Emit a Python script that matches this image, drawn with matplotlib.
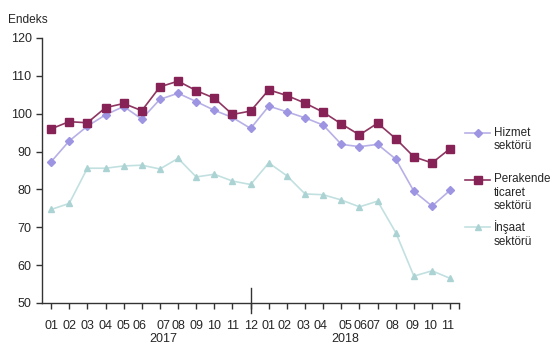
import matplotlib
matplotlib.use("Agg")
import matplotlib.pyplot as plt
import matplotlib.transforms as mtransforms
from matplotlib.lines import Line2D

plt.rcParams['font.family'] = ['Liberation Sans', 'DejaVu Sans']

# Month labels (Jan 2017 - Nov 2018)
months = ["01", "02", "03", "04", "05", "06", "07", "08", "09", "10", "11", "12",
          "01", "02", "03", "04", "05", "06", "07", "08", "09", "10", "11"]
years = ["2017", "2018"]

# Index values
hizmet = [87.3, 92.8, 96.7, 99.7, 101.9, 98.6, 103.8, 105.4, 103.2, 100.9, 99.0, 96.1,
          102.0, 100.5, 98.9, 97.0, 91.9, 91.3, 91.9, 88.0, 79.5, 75.6, 79.8]
perakende = [96.0, 97.9, 97.6, 101.6, 102.7, 100.8, 107.1, 108.6, 106.1, 104.1, 99.8, 100.7,
             106.3, 104.8, 102.8, 100.4, 97.3, 94.4, 97.5, 93.4, 88.6, 87.0, 90.8]
insaat = [74.7, 76.3, 85.6, 85.6, 86.2, 86.4, 85.4, 88.2, 83.3, 84.0, 82.2, 81.3,
          87.0, 83.6, 78.8, 78.6, 77.2, 75.4, 76.9, 68.6, 57.1, 58.5, 56.5]

series_names = ["Hizmet\nsektörü", "Perakende\nticaret\nsektörü", "İnşaat\nsektörü"]

c_hiz_line, c_hiz_mk = "#b7b0e6", "#9d95e2"
c_per_line, c_per_mk = "#8e3561", "#872256"
c_ins_line, c_ins_mk = "#c2e0e0", "#acd3d3"
axis_col = "#333333"
text_col = "#262626"

fig = plt.figure(figsize=(5.55, 3.55), dpi=100)
ax = fig.add_axes([0.0757, 0.1465, 0.8515 - 0.0757 - 0.024, 0.893 - 0.1465])

x = list(range(len(months)))
ax.plot(x, hizmet, color=c_hiz_line, lw=1.2, marker="D", ms=3.6,
        mfc=c_hiz_mk, mec=c_hiz_mk)
ax.plot(x, perakende, color=c_per_line, lw=1.2, marker="s", ms=5.5,
        mfc=c_per_mk, mec=c_per_mk)
ax.plot(x, insaat, color=c_ins_line, lw=1.2, marker="^", ms=5,
        mfc=c_ins_mk, mec=c_ins_mk)

ax.set_xlim(-0.5, len(months) - 0.5)
ax.set_ylim(50, 120)
ax.set_yticks(range(50, 121, 10))
ax.set_xticks(x)
ax.set_xticklabels(months)
ax.set_xticks([len(months) - 0.5], minor=True)

for s in ["top", "right"]:
    ax.spines[s].set_visible(False)
for s in ["left", "bottom"]:
    ax.spines[s].set_color(axis_col)
    ax.spines[s].set_linewidth(1.0)

ax.tick_params(axis="both", colors=axis_col, labelcolor=text_col, labelsize=9,
               length=4, width=1.0, direction="out")
ax.tick_params(axis="x", pad=8)
ax.tick_params(axis="x", which="minor", length=4, width=1.0, colors=axis_col)

# small label shifts to mimic the source layout
shifts = {5: -2.5, 6: 3.5, 13: -2, 14: -2, 15: -3, 16: 4, 17: 1, 18: -4,
          19: -3, 20: -1, 21: -2, 22: -2.5}
for i, lab in enumerate(ax.get_xticklabels()):
    dx = shifts.get(i, 0)
    if dx:
        lab.set_transform(lab.get_transform() +
                          mtransforms.ScaledTranslation(dx / 100, 0, fig.dpi_scale_trans))

# year separator
ax.plot([11, 11], [47.3, 53.9], color=axis_col, lw=1.0, clip_on=False)

# year labels
xt = ax.get_xaxis_transform()
ax.text(6.2, -0.135, years[0], transform=xt, ha="center", va="center",
        fontsize=9, color=text_col)
ax.text(16.2, -0.135, years[1], transform=xt, ha="center", va="center",
        fontsize=9, color=text_col)

fig.text(8 / 555, 1 - 20 / 355, "Endeks", ha="left", va="center",
         fontsize=8.6, color=text_col)

# legend (drawn by hand so markers align with first text line)
leg_items = [
    (c_hiz_line, c_hiz_mk, "D", 3.6, 133),
    (c_per_line, c_per_mk, "s", 5.5, 180),
    (c_ins_line, c_ins_mk, "^", 5, 227),
]
for (lc, mc, mk, ms, ypx), name in zip(leg_items, series_names):
    yf = 1 - ypx / 355
    fig.add_artist(Line2D([465 / 555, 490 / 555], [yf, yf], color=lc, lw=1.2))
    fig.add_artist(Line2D([477.5 / 555], [yf], marker=mk, ms=ms, mfc=mc, mec=mc, lw=0))
    fig.text(494 / 555, yf + 6.5 / 355, name, ha="left", va="top", fontsize=8.4,
             color=text_col, linespacing=1.15)

fig.savefig("out.png", dpi=100)
